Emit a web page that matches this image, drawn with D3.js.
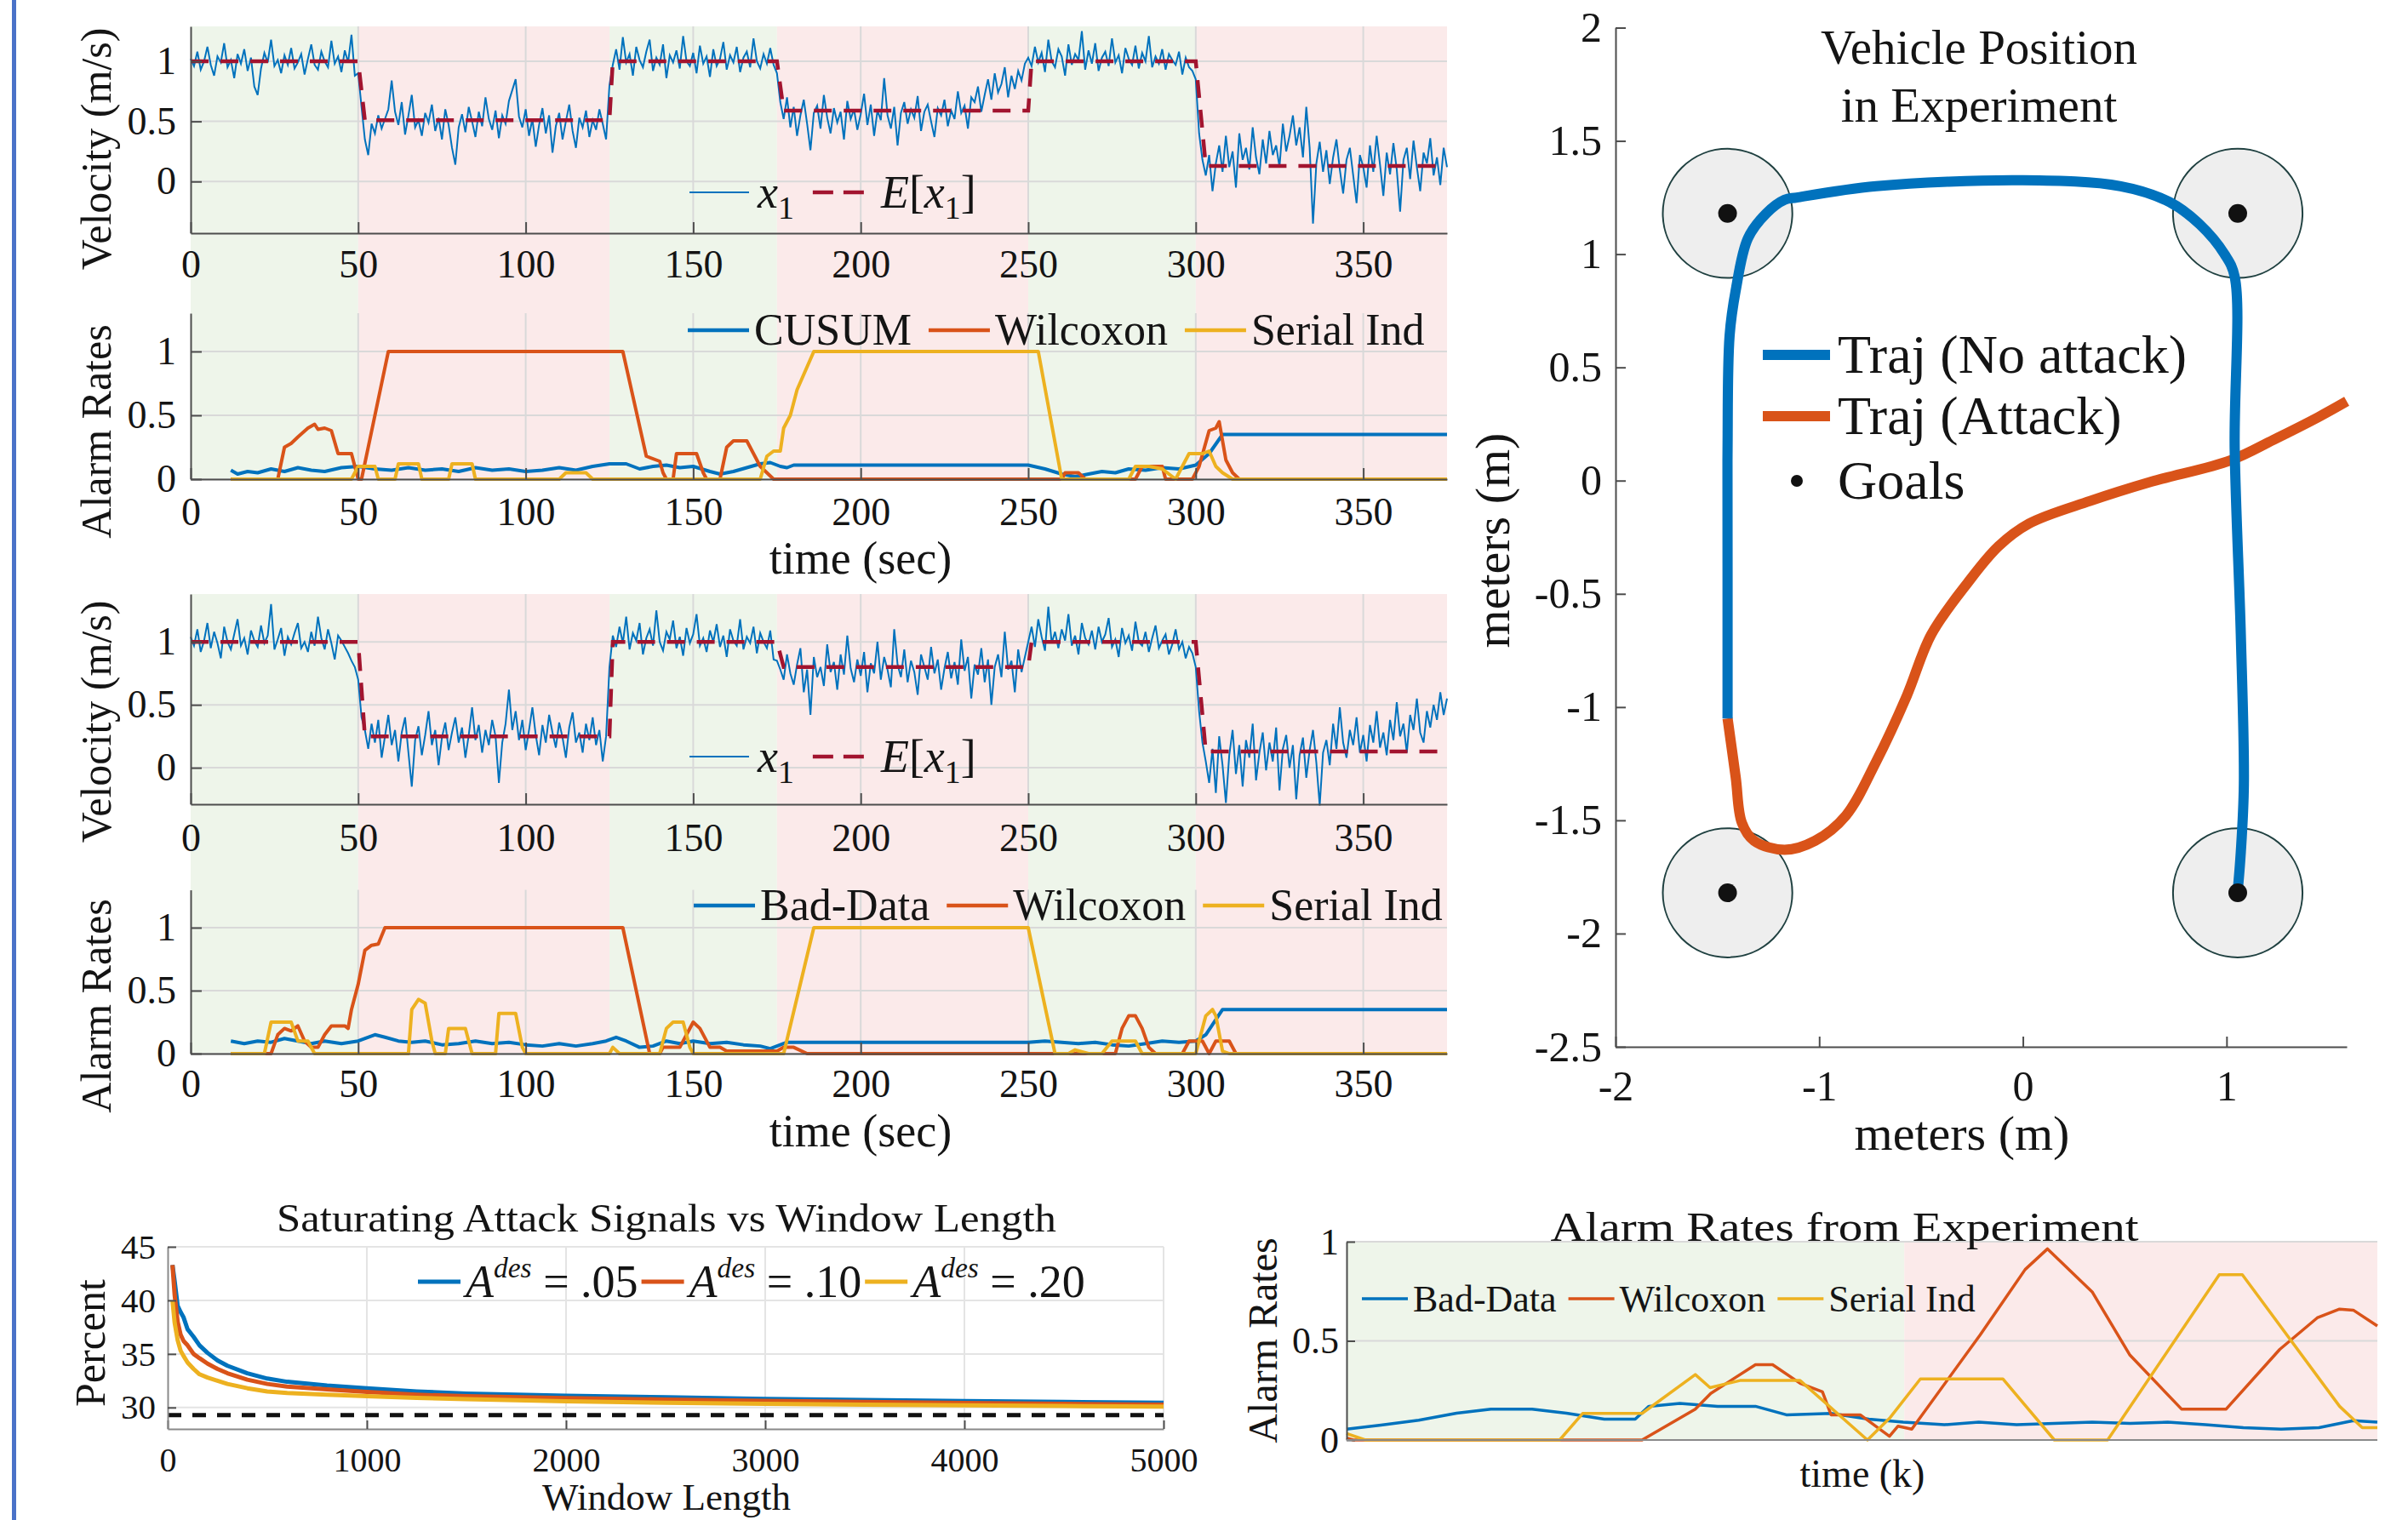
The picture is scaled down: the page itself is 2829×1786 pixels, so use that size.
<!DOCTYPE html>
<html>
<head>
<meta charset="utf-8">
<script src="https://cdn.jsdelivr.net/npm/d3@7"></script>
<style>
body{margin:0;background:#fff;}
svg{display:block;}
</style>
</head>
<body>
<svg id="fig" width="2829" height="1786"></svg>
<script>
// ---------- data ----------
// attack / no-attack bands (sec)
var bandEdges = [0, 50, 125, 175, 250, 300, 375];
var bandAttack = [false, true, false, true, false, true];
var timeTicks = [0, 50, 100, 150, 200, 250, 300, 350];
var rateTicks = [0, 0.5, 1];

// measured velocity x1, one sample per second, in hundredths of m/s
var velTopX1 = [102,96,108,93,100,112,97,88,104,99,115,95,101,86,106,98,110,92,103,79,
72,94,107,99,118,96,101,90,105,97,111,94,99,106,89,102,114,97,93,108,
100,95,117,98,104,91,109,99,122,88,
90,62,35,22,48,40,55,44,52,60,84,58,47,66,39,55,72,45,51,38,
57,49,64,42,53,35,60,47,28,14,45,56,41,62,50,37,58,46,70,52,
43,59,36,55,48,67,76,85,54,45,60,38,52,29,47,61,40,55,24,46,
57,35,50,64,42,28,53,45,59,37,51,43,60,48,35,
80,97,110,93,120,99,106,88,112,101,95,108,118,92,103,97,114,86,105,99,
109,94,121,100,96,107,90,113,98,104,87,110,96,102,116,93,105,99,112,91,
103,108,95,119,100,94,106,98,111,97,
90,66,52,70,45,62,38,55,68,48,26,57,63,44,72,53,40,61,49,58,
35,67,52,60,43,56,73,47,64,38,59,51,86,55,44,62,30,57,66,48,
60,53,71,42,58,64,50,37,61,55,68,46,59,52,75,57,63,44,70,66,
79,58,72,85,68,90,74,81,95,70,88,77,92,84,98,
103,96,112,99,107,91,118,100,95,110,104,88,114,97,106,101,125,93,109,98,
115,92,103,108,96,119,99,105,90,111,102,97,113,94,107,100,121,95,104,98,
110,93,106,101,97,108,89,103,95,92,
85,40,18,5,22,-8,15,30,8,38,12,25,-5,40,18,28,10,45,20,6,
35,15,42,22,30,12,48,25,38,55,30,45,20,62,28,-35,15,33,8,26,
-2,20,35,10,-10,18,28,5,-18,22,12,-5,30,8,38,14,-12,24,6,32,
10,-25,18,28,2,34,12,-8,24,15,36,5,20,-3,28,12];

var velBotX1 = [104,97,110,92,101,115,95,108,99,87,112,100,94,106,118,97,103,90,109,101,
96,113,99,105,130,94,102,111,89,104,98,107,115,95,100,92,108,97,120,103,
94,110,99,86,105,101,96,91,85,80,
70,40,30,15,35,20,38,8,25,42,18,30,5,28,40,12,-15,22,33,10,
26,45,18,30,2,24,36,14,28,40,20,32,8,26,48,22,34,12,30,18,
38,25,-12,20,35,62,30,45,22,38,14,30,48,26,10,34,20,42,28,16,
36,24,8,32,44,20,28,12,35,22,40,18,30,5,25,
80,105,96,112,99,120,94,107,101,115,90,103,110,97,125,100,93,108,102,117,
95,104,89,111,99,106,122,97,103,92,109,100,114,96,105,88,110,101,97,118,
94,104,99,112,91,107,100,95,109,86,
85,78,70,90,75,66,82,95,60,78,42,88,72,80,65,98,76,84,62,90,
74,105,79,68,86,73,92,60,83,75,100,70,88,78,64,110,82,72,94,68,
85,76,58,90,80,70,96,75,86,62,79,92,71,84,66,102,77,88,55,82,
74,95,68,86,50,80,90,72,108,78,85,60,94,76,88,
100,112,96,118,104,93,128,99,108,95,110,101,122,97,105,90,115,103,98,109,
94,112,100,106,119,96,102,88,111,99,105,93,116,100,97,108,92,103,113,95,
101,106,90,98,110,94,100,87,96,91,
80,45,20,5,-12,15,-20,25,2,-28,10,30,-5,18,-15,22,8,35,-10,12,
28,-2,20,5,32,-18,15,26,0,18,-25,10,24,-8,14,30,4,-30,12,22,
2,35,15,48,20,8,30,18,40,12,26,5,34,20,45,16,28,10,38,22,
52,25,35,12,42,30,55,28,20,45,32,50,38,60,42,55];

// expected velocity E[x1]: [time, value]
var expTop = [[0,1],[50,1],[52,0.51],[125,0.51],[126,1],[175,1],[177,0.59],[250,0.59],[251,1],[300,1],[303,0.13],[375,0.13]];
var expBot = [[0,1],[50,1],[52,0.25],[125,0.25],[126,1],[175,1],[177,0.8],[250,0.8],[251,1],[300,1],[303,0.13],[375,0.13]];

// alarm rates, first experiment: [time, rate]
var cusumTop = [[12,0.07],[14,0.04],[17,0.06],[20,0.05],[24,0.08],[28,0.06],[32,0.09],[36,0.07],[40,0.06],[45,0.09],[50,0.1],[55,0.08],[60,0.07],[65,0.09],[70,0.07],[75,0.08],[80,0.06],[85,0.09],[90,0.07],[95,0.08],[100,0.06],[105,0.07],[110,0.09],[115,0.07],[120,0.1],[125,0.12],[130,0.12],[134,0.08],[138,0.1],[142,0.11],[146,0.09],[150,0.1],[155,0.06],[158,0.04],[162,0.06],[166,0.09],[170,0.12],[173,0.13],[176,0.1],[178,0.09],[180,0.11],[250,0.11],[255,0.08],[260,0.04],[264,0.02],[268,0.04],[272,0.06],[276,0.05],[280,0.08],[285,0.07],[290,0.09],[295,0.08],[300,0.11],[304,0.2],[308,0.35],[375,0.35]];
var wilcoxonTop = [[12,0],[26,0],[28,0.25],[30,0.28],[32,0.33],[35,0.4],[37,0.43],[38,0.39],[40,0.4],[42,0.38],[44,0.2],[48,0.2],[49,0.1],[50,0],[51,0],[59,1],[129,1],[136,0.18],[140,0.14],[141,0.05],[142,0],[144,0],[145,0.2],[151,0.2],[153,0.05],[154,0],[158,0],[160,0.25],[162,0.3],[166,0.3],[168,0.2],[170,0.1],[172,0.05],[174,0],[260,0],[261,0.05],[265,0.05],[267,0],[282,0],[284,0.1],[290,0.1],[291,0],[299,0],[301,0.1],[304,0.38],[306,0.4],[307,0.45],[309,0.15],[311,0.05],[313,0]];
var serialTop = [[12,0],[48,0],[50,0.1],[55,0.1],[56,0],[61,0],[62,0.12],[68,0.12],[69,0],[77,0],[78,0.12],[84,0.12],[85,0],[110,0],[112,0.05],[118,0.05],[120,0],[170,0],[172,0.18],[174,0.22],[176,0.22],[177,0.4],[179,0.5],[181,0.7],[186,1],[253,1],[260,0],[280,0],[282,0.1],[286,0.1],[290,0.08],[294,0],[298,0.2],[302,0.2],[304,0.22],[306,0.1],[308,0.05],[311,0],[375,0]];

// alarm rates, second experiment
var badDataBot = [[12,0.1],[16,0.08],[20,0.1],[24,0.09],[28,0.12],[32,0.1],[36,0.08],[40,0.1],[45,0.08],[50,0.1],[55,0.15],[58,0.13],[62,0.1],[66,0.09],[70,0.1],[75,0.07],[80,0.08],[85,0.1],[90,0.08],[95,0.09],[100,0.07],[105,0.06],[110,0.08],[115,0.06],[120,0.08],[124,0.1],[127,0.13],[130,0.1],[134,0.05],[138,0.06],[142,0.1],[146,0.08],[150,0.1],[155,0.08],[160,0.09],[165,0.07],[170,0.06],[173,0.04],[176,0.07],[178,0.09],[250,0.09],[255,0.1],[260,0.09],[265,0.08],[270,0.09],[275,0.07],[280,0.06],[285,0.08],[290,0.1],[295,0.09],[300,0.1],[303,0.15],[308,0.35],[375,0.35]];
var wilcoxonBot = [[12,0],[24,0],[26,0.15],[28,0.2],[30,0.18],[32,0.22],[34,0.1],[36,0.05],[38,0.05],[40,0.15],[42,0.22],[46,0.22],[47,0.2],[48,0.35],[50,0.55],[52,0.82],[54,0.86],[56,0.87],[58,1],[129,1],[137,0],[140,0],[141,0.05],[146,0.05],[148,0.15],[150,0.25],[152,0.2],[155,0.05],[158,0.05],[160,0.02],[175,0.02],[177,0.05],[180,0.05],[184,0],[276,0],[278,0.2],[280,0.3],[282,0.3],[284,0.2],[286,0.05],[288,0],[296,0],[298,0.1],[302,0.1],[304,0],[306,0.1],[310,0.1],[312,0]];
var serialBot = [[12,0],[22,0],[24,0.25],[30,0.25],[32,0.1],[35,0.1],[37,0],[65,0],[66,0.35],[68,0.43],[70,0.4],[72,0.1],[73,0],[76,0],[77,0.2],[82,0.2],[84,0],[91,0],[92,0.32],[97,0.32],[99,0.05],[100,0],[125,0],[126,0.05],[128,0],[140,0],[142,0.2],[144,0.25],[147,0.25],[149,0.05],[150,0],[177,0],[186,1],[250,1],[258,0],[262,0],[264,0.03],[268,0],[272,0],[275,0.1],[282,0.1],[284,0],[300,0],[303,0.3],[305,0.35],[306,0.3],[308,0.02],[310,0],[375,0]];

var namesTop = ['CUSUM', 'Wilcoxon', 'Serial Ind'];
var namesBot = ['Bad-Data', 'Wilcoxon', 'Serial Ind'];

// vehicle position (m)
var trajNoAttackX = [-1.45,-1.45,-1.45,-1.44,-1.41,-1.35,-1.26,-1.17,-1.11,-0.72,0.0,0.48,0.72,0.87,0.99,1.04,1.04,1.07,1.085,1.07,1.055];
var trajNoAttackY = [-1.05,-0.4,0.14,0.64,0.84,1.07,1.18,1.24,1.25,1.30,1.326,1.30,1.23,1.13,1.0,0.90,0.14,-0.68,-1.34,-1.64,-1.81];
var trajAttackX = [-1.45,-1.41,-1.38,-1.32,-1.17,-1.02,-0.87,-0.72,-0.57,-0.45,-0.27,-0.12,0.03,0.33,0.63,1.02,1.23,1.45,1.59];
var trajAttackY = [-1.05,-1.31,-1.51,-1.59,-1.63,-1.59,-1.48,-1.24,-0.95,-0.68,-0.45,-0.29,-0.19,-0.09,-0.005,0.09,0.18,0.28,0.35];
var goalX = [-1.45, 1.055, -1.45, 1.055];
var goalY = [1.18, 1.18, -1.82, -1.82];
var goalRadius = [0.318, 0.285]; // x, y in metres
var posXTicks = [-2, -1, 0, 1];
var posYTicks = [-2.5, -2, -1.5, -1, -0.5, 0, 0.5, 1, 1.5, 2];
var trajNames = ['Traj (No attack)', 'Traj (Attack)', 'Goals'];

// saturating attack vs window length
var winLength = [24,35,50,65,80,100,130,160,200,250,300,400,500,600,800,1000,1250,1500,2000,2500,3000,3500,4000,4500,5000];
var pct05 = [43.3,41.8,39.5,38.9,38.4,37.3,36.6,35.8,35.1,34.4,33.9,33.2,32.7,32.4,32.05,31.8,31.5,31.3,31.1,30.95,30.8,30.7,30.6,30.52,30.45];
var pct10 = [43.3,40.5,38.0,36.8,36.2,35.8,35.0,34.6,34.1,33.6,33.2,32.6,32.2,31.95,31.7,31.45,31.2,31.05,30.88,30.75,30.62,30.52,30.42,30.34,30.26];
var pct20 = [40.0,37.9,36.3,35.3,34.8,34.2,33.6,33.1,32.8,32.5,32.2,31.8,31.5,31.35,31.2,31.05,30.9,30.78,30.58,30.45,30.34,30.27,30.2,30.14,30.08];
var pctLimit = 29.3;
var aDes = ['.05', '.10', '.20'];
var winTicks = [0, 1000, 2000, 3000, 4000, 5000];
var pctTicks = [30, 35, 40, 45];

// alarm rates from experiment, time index k
var kAttackStart = 162.3;
var kBadData = [[0,0.055],[10,0.075],[21,0.1],[32,0.135],[42,0.156],[54,0.156],[64,0.135],[75,0.105],[84,0.105],[88,0.17],[97,0.185],[108,0.17],[119,0.17],[128,0.127],[141,0.134],[152,0.105],[162,0.09],[174,0.077],[184,0.09],[195,0.077],[206,0.084],[217,0.09],[228,0.084],[239,0.09],[250,0.077],[261,0.062],[272,0.055],[283,0.062],[293,0.098],[300,0.09]];
var kWilcoxon = [[0,0.01],[2,0],[86,0],[101.5,0.156],[106,0.235],[119,0.38],[124,0.38],[132,0.286],[138.5,0.243],[141,0.127],[149.5,0.127],[158,0.019],[160.5,0.07],[164.5,0.055],[184.4,0.53],[197.5,0.86],[204,0.964],[217,0.747],[228,0.428],[243,0.156],[256,0.156],[271.6,0.457],[282.5,0.616],[289,0.66],[293,0.655],[300,0.575]];
var kSerial = [[0,0.033],[5.5,0],[62,0],[68.7,0.134],[86,0.134],[101.5,0.33],[105.8,0.264],[114.5,0.3],[132,0.3],[151.6,0],[158.2,0.113],[167,0.308],[191,0.308],[206,0],[221.5,0],[254,0.834],[260.7,0.834],[289,0.17],[295.6,0.062],[300,0.062]];

// ---------- drawing ----------
var FONT = '"Liberation Serif","Times New Roman",serif';
var col = {blue:'#0072bd', orange:'#d95319', yellow:'#edb120', red:'#a2142f',
  green:'#eef5ea', pink:'#fbeaea', grid:'#d9d9d9', axis:'#4d4d4d', text:'#141414'};
var seriesCol = [col.blue, col.orange, col.yellow];
var num = function(d) { return String(d); };

var svg = d3.select('#fig').attr('font-family', FONT);

svg.append('rect').attr('x', 14).attr('y', 0).attr('width', 5).attr('height', 1786).attr('fill', '#4a72c8');

function styleAxis(g, size) {
  g.attr('font-family', FONT).attr('font-size', size);
  g.select('.domain').attr('stroke', col.axis).attr('stroke-width', 2);
  g.selectAll('.tick line').attr('stroke', col.axis).attr('stroke-width', 2);
  g.selectAll('.tick text').attr('fill', col.text);
}

function text(s, x, y, size, anchor, len) {
  var t = svg.append('text').attr('x', x).attr('y', y).attr('font-size', size)
    .attr('text-anchor', anchor || 'start').attr('fill', col.text).text(s);
  if (len) t.attr('textLength', len).attr('lengthAdjust', 'spacingAndGlyphs');
  return t;
}

function vtext(s, x, y, size) {
  return svg.append('text').attr('transform', 'translate(' + x + ',' + y + ') rotate(-90)')
    .attr('text-anchor', 'middle').attr('dy', '0.35em').attr('font-size', size)
    .attr('fill', col.text).text(s);
}

function hgrid(y, vals, x0, x1, color) {
  svg.append('g').selectAll('line').data(vals).enter().append('line')
    .attr('x1', x0).attr('x2', x1).attr('y1', d => y(d)).attr('y2', d => y(d))
    .attr('stroke', color || col.grid).attr('stroke-width', 2);
}
function vgrid(x, vals, y0, y1, color) {
  svg.append('g').selectAll('line').data(vals).enter().append('line')
    .attr('x1', d => x(d)).attr('x2', d => x(d)).attr('y1', y0).attr('y2', y1)
    .attr('stroke', color || col.grid).attr('stroke-width', 2);
}

// legend laid out left to right; each item draws its own label
function legend(items, x, y, size, lineLen, gap1, gap2) {
  var cx = x;
  items.forEach(function(it) {
    svg.append('line').attr('x1', cx).attr('x2', cx + lineLen).attr('y1', y).attr('y2', y)
      .attr('stroke', it.color).attr('stroke-width', it.width)
      .attr('stroke-dasharray', it.dash || null);
    cx += lineLen + gap1;
    var t = svg.append('text').attr('x', cx).attr('y', y).attr('dy', '0.33em')
      .attr('font-size', size).attr('fill', col.text);
    it.draw(t, size);
    cx += t.node().getComputedTextLength() + gap2;
  });
}
function plain(s) { return function(t) { t.text(s); }; }
function sub(t, base, idx, size) {
  t.append('tspan').attr('font-style', 'italic').text(base);
  t.append('tspan').attr('font-size', size * 0.7).attr('dy', size * 0.25).text(idx);
}
function mathX1(t, size) { sub(t, 'x', '1', size); }
function mathEx1(t, size) {
  t.append('tspan').attr('font-style', 'italic').text('E');
  t.append('tspan').text('[');
  sub(t, 'x', '1', size);
  t.append('tspan').attr('dy', -size * 0.25).text(']');
}
function mathA(v) {
  return function(t, size) {
    t.append('tspan').attr('font-style', 'italic').text('A');
    t.append('tspan').attr('font-style', 'italic').attr('font-size', size * 0.62).attr('dy', -size * 0.42).text('des');
    t.append('tspan').attr('dy', size * 0.42).text(' = ' + v);
  };
}

// ----- left column: two experiments, velocity + alarm rates -----
var xT = d3.scaleLinear().domain([0, 375]).range([224, 1700]);
var velLine = function(y) { return d3.line().x((d, i) => xT(i)).y(d => y(d / 100)); };
var ptLine = function(x, y) { return d3.line().x(d => x(d[0])).y(d => y(d[1])); };

function drawPair(p) {
  var vy = p.velY, ay = p.alarmY;
  // attack shading spans both subplots
  svg.append('g').selectAll('rect').data(bandAttack).enter().append('rect')
    .attr('x', (d, i) => xT(bandEdges[i])).attr('width', (d, i) => xT(bandEdges[i + 1]) - xT(bandEdges[i]))
    .attr('y', vy.range()[1]).attr('height', ay(0) - vy.range()[1])
    .attr('fill', d => d ? col.pink : col.green);

  hgrid(vy, rateTicks, 224, 1700);
  vgrid(xT, timeTicks.slice(1), vy.range()[1], vy.range()[0]);
  hgrid(ay, rateTicks, 224, 1700);
  vgrid(xT, timeTicks.slice(1), ay.range()[1], ay(0));

  // velocity
  svg.append('path').datum(p.vel).attr('d', velLine(vy))
    .attr('fill', 'none').attr('stroke', col.blue).attr('stroke-width', 2);
  svg.append('path').datum(p.exp).attr('d', ptLine(xT, vy))
    .attr('fill', 'none').attr('stroke', col.red).attr('stroke-width', 4.5).attr('stroke-dasharray', '21,14');

  // alarms
  p.alarms.forEach(function(a, i) {
    svg.append('path').datum(a).attr('d', ptLine(xT, ay))
      .attr('fill', 'none').attr('stroke', seriesCol[i]).attr('stroke-width', 4).attr('stroke-linejoin', 'round');
  });

  [[vy, vy.range()[0], p.padV], [ay, ay(0), p.padA]].forEach(function(s) {
    var gy = svg.append('g').attr('transform', 'translate(224,0)')
      .call(d3.axisLeft(s[0]).tickValues(rateTicks).tickFormat(num).tickSizeInner(-13).tickSizeOuter(0).tickPadding(17));
    styleAxis(gy, 46);
    var gx = svg.append('g').attr('transform', 'translate(0,' + s[1] + ')')
      .call(d3.axisBottom(xT).tickValues(timeTicks).tickFormat(num).tickSizeInner(-13).tickSizeOuter(0).tickPadding(s[2]));
    styleAxis(gx, 46);
  });

  vtext('Velocity (m/s)', 112, p.velLabelY, 50);
  vtext('Alarm Rates', 112, p.alarmLabelY, 50);
  text('time (sec)', 1011, p.timeLabelY, 54, 'middle');

  legend([
    {color: col.blue, width: 2, draw: mathX1},
    {color: col.red, width: 4.5, dash: '24,12', draw: mathEx1}
  ], 810, p.velLegendY, 54, 70, 10, 22);

  legend(p.names.map(function(n, i) {
    return {color: seriesCol[i], width: 4.5, draw: plain(n)};
  }), p.alarmLegendX, p.alarmLegendY, 52, 72, 6, 20);
}

drawPair({
  vel: velTopX1, exp: expTop, alarms: [cusumTop, wilcoxonTop, serialTop], names: namesTop,
  velY: d3.scaleLinear().domain([-0.43, 1.29]).range([274, 31]),
  alarmY: d3.scaleLinear().domain([0, 1.3]).range([563, 368]),
  padV: 19, padA: 21, velLabelY: 175, alarmLabelY: 507, timeLabelY: 674,
  velLegendY: 226, alarmLegendX: 808, alarmLegendY: 388
});
drawPair({
  vel: velBotX1, exp: expBot, alarms: [badDataBot, wilcoxonBot, serialBot], names: namesBot,
  velY: d3.scaleLinear().domain([-0.29, 1.38]).range([945, 698]),
  alarmY: d3.scaleLinear().domain([0, 1.3]).range([1238, 1045.6]),
  padV: 22, padA: 18, velLabelY: 848, alarmLabelY: 1182, timeLabelY: 1347,
  velLegendY: 889, alarmLegendX: 815, alarmLegendY: 1064
});

// ----- right: vehicle position -----
var xP = d3.scaleLinear().domain([-2, 1.59]).range([1898, 2757]);
var yP = d3.scaleLinear().domain([-2.5, 2]).range([1230, 32.5]);

svg.append('g').selectAll('ellipse').data(goalX).enter().append('ellipse')
  .attr('cx', d => xP(d)).attr('cy', (d, i) => yP(goalY[i]))
  .attr('rx', xP(goalRadius[0]) - xP(0)).attr('ry', yP(0) - yP(goalRadius[1]))
  .attr('fill', '#eeeeee').attr('stroke', '#1f4040').attr('stroke-width', 2);

var trajLine = d3.line().x(d => xP(d[0])).y(d => yP(d[1])).curve(d3.curveCatmullRom.alpha(0.5));
svg.append('path').datum(trajAttackX.map((x, i) => [x, trajAttackY[i]])).attr('d', trajLine)
  .attr('fill', 'none').attr('stroke', col.orange).attr('stroke-width', 12);
svg.append('path').datum(trajNoAttackX.map((x, i) => [x, trajNoAttackY[i]])).attr('d', trajLine)
  .attr('fill', 'none').attr('stroke', col.blue).attr('stroke-width', 12);

svg.append('g').selectAll('circle').data(goalX).enter().append('circle')
  .attr('cx', d => xP(d)).attr('cy', (d, i) => yP(goalY[i])).attr('r', 11).attr('fill', '#111');

var gpx = svg.append('g').attr('transform', 'translate(0,1230)')
  .call(d3.axisBottom(xP).tickValues(posXTicks).tickFormat(num).tickSizeInner(-12).tickSizeOuter(0).tickPadding(27));
styleAxis(gpx, 50);
var gpy = svg.append('g').attr('transform', 'translate(1898,0)')
  .call(d3.axisLeft(yP).tickValues(posYTicks).tickFormat(num).tickSizeInner(-12).tickSizeOuter(0).tickPadding(16));
styleAxis(gpy, 50);

text('Vehicle Position', 2325, 75, 57, 'middle');
text('in Experiment', 2325, 143, 57, 'middle');
text('meters (m)', 2305, 1351, 58, 'middle');
vtext('meters (m)', 1753, 635, 58);

[[col.blue, 417], [col.orange, 489]].forEach(function(r, i) {
  svg.append('line').attr('x1', 2071).attr('x2', 2150).attr('y1', r[1]).attr('y2', r[1])
    .attr('stroke', r[0]).attr('stroke-width', 12);
  text(trajNames[i], 2159, r[1] + 21, 64);
});
svg.append('circle').attr('cx', 2111).attr('cy', 565).attr('r', 7).attr('fill', '#111');
text(trajNames[2], 2159, 586, 64);

// ----- bottom left: saturating attack -----
var xW = d3.scaleLinear().domain([0, 5000]).range([197, 1367]);
var yW = d3.scaleLinear().domain([28, 45]).range([1679, 1465]);
hgrid(yW, pctTicks, 197, 1367, '#e4e4e4');
vgrid(xW, winTicks.slice(1), 1465, 1679, '#e4e4e4');

svg.append('path').datum([[0, pctLimit], [5000, pctLimit]]).attr('d', ptLine(xW, yW))
  .attr('stroke', '#111').attr('stroke-width', 5).attr('stroke-dasharray', '16,13');
[pct05, pct10, pct20].forEach(function(s, i) {
  svg.append('path').datum(s.map((v, j) => [winLength[j], v])).attr('d', ptLine(xW, yW))
    .attr('fill', 'none').attr('stroke', seriesCol[i]).attr('stroke-width', 5).attr('stroke-linejoin', 'round');
});
var gwx = svg.append('g').attr('transform', 'translate(0,1679)')
  .call(d3.axisBottom(xW).tickValues(winTicks).tickFormat(num).tickSizeInner(-10).tickSizeOuter(0).tickPadding(22));
styleAxis(gwx, 40);
var gwy = svg.append('g').attr('transform', 'translate(197,0)')
  .call(d3.axisLeft(yW).tickValues(pctTicks).tickFormat(num).tickSizeInner(-10).tickSizeOuter(0).tickPadding(14));
styleAxis(gwy, 41);
gwx.select('.domain').attr('stroke', '#8a8a8a');
gwy.select('.domain').attr('stroke', '#8a8a8a');

text('Saturating Attack Signals vs Window Length', 783, 1447, 47, 'middle', 916);
text('Window Length', 783, 1774, 45, 'middle');
vtext('Percent', 105, 1578, 50);
legend(aDes.map(function(v, i) {
  return {color: seriesCol[i], width: 5, draw: mathA(v)};
}), 491, 1506, 54, 50, 6, 4);

// ----- bottom right: alarm rates from experiment -----
var xK = d3.scaleLinear().domain([0, 300]).range([1582, 2793]);
var yK = d3.scaleLinear().domain([0, 1]).range([1692, 1459]);
svg.append('rect').attr('x', xK(0)).attr('y', yK(1)).attr('width', xK(kAttackStart) - xK(0))
  .attr('height', yK(0) - yK(1)).attr('fill', col.green);
svg.append('rect').attr('x', xK(kAttackStart)).attr('y', yK(1)).attr('width', xK(300) - xK(kAttackStart))
  .attr('height', yK(0) - yK(1)).attr('fill', col.pink);
hgrid(yK, [0.5, 1], 1582, 2793);
[kBadData, kWilcoxon, kSerial].forEach(function(s, i) {
  svg.append('path').datum(s).attr('d', ptLine(xK, yK))
    .attr('fill', 'none').attr('stroke', seriesCol[i]).attr('stroke-width', 3.5).attr('stroke-linejoin', 'round');
});
var gky = svg.append('g').attr('transform', 'translate(1582,0)')
  .call(d3.axisLeft(yK).tickValues(rateTicks).tickFormat(num).tickSizeInner(-10).tickSizeOuter(0).tickPadding(9));
styleAxis(gky, 44);
svg.append('line').attr('x1', 1582).attr('x2', 2793).attr('y1', yK(0)).attr('y2', yK(0))
  .attr('stroke', '#8a8a8a').attr('stroke-width', 2);

text('Alarm Rates from Experiment', 2167, 1458, 48, 'middle', 691);
text('time (k)', 2188, 1747, 46, 'middle');
vtext('Alarm Rates', 1483, 1575, 48);
legend(namesBot.map(function(n, i) {
  return {color: seriesCol[i], width: 3.5, draw: plain(n)};
}), 1600, 1526, 44, 54, 6, 14);
</script>
</body>
</html>
